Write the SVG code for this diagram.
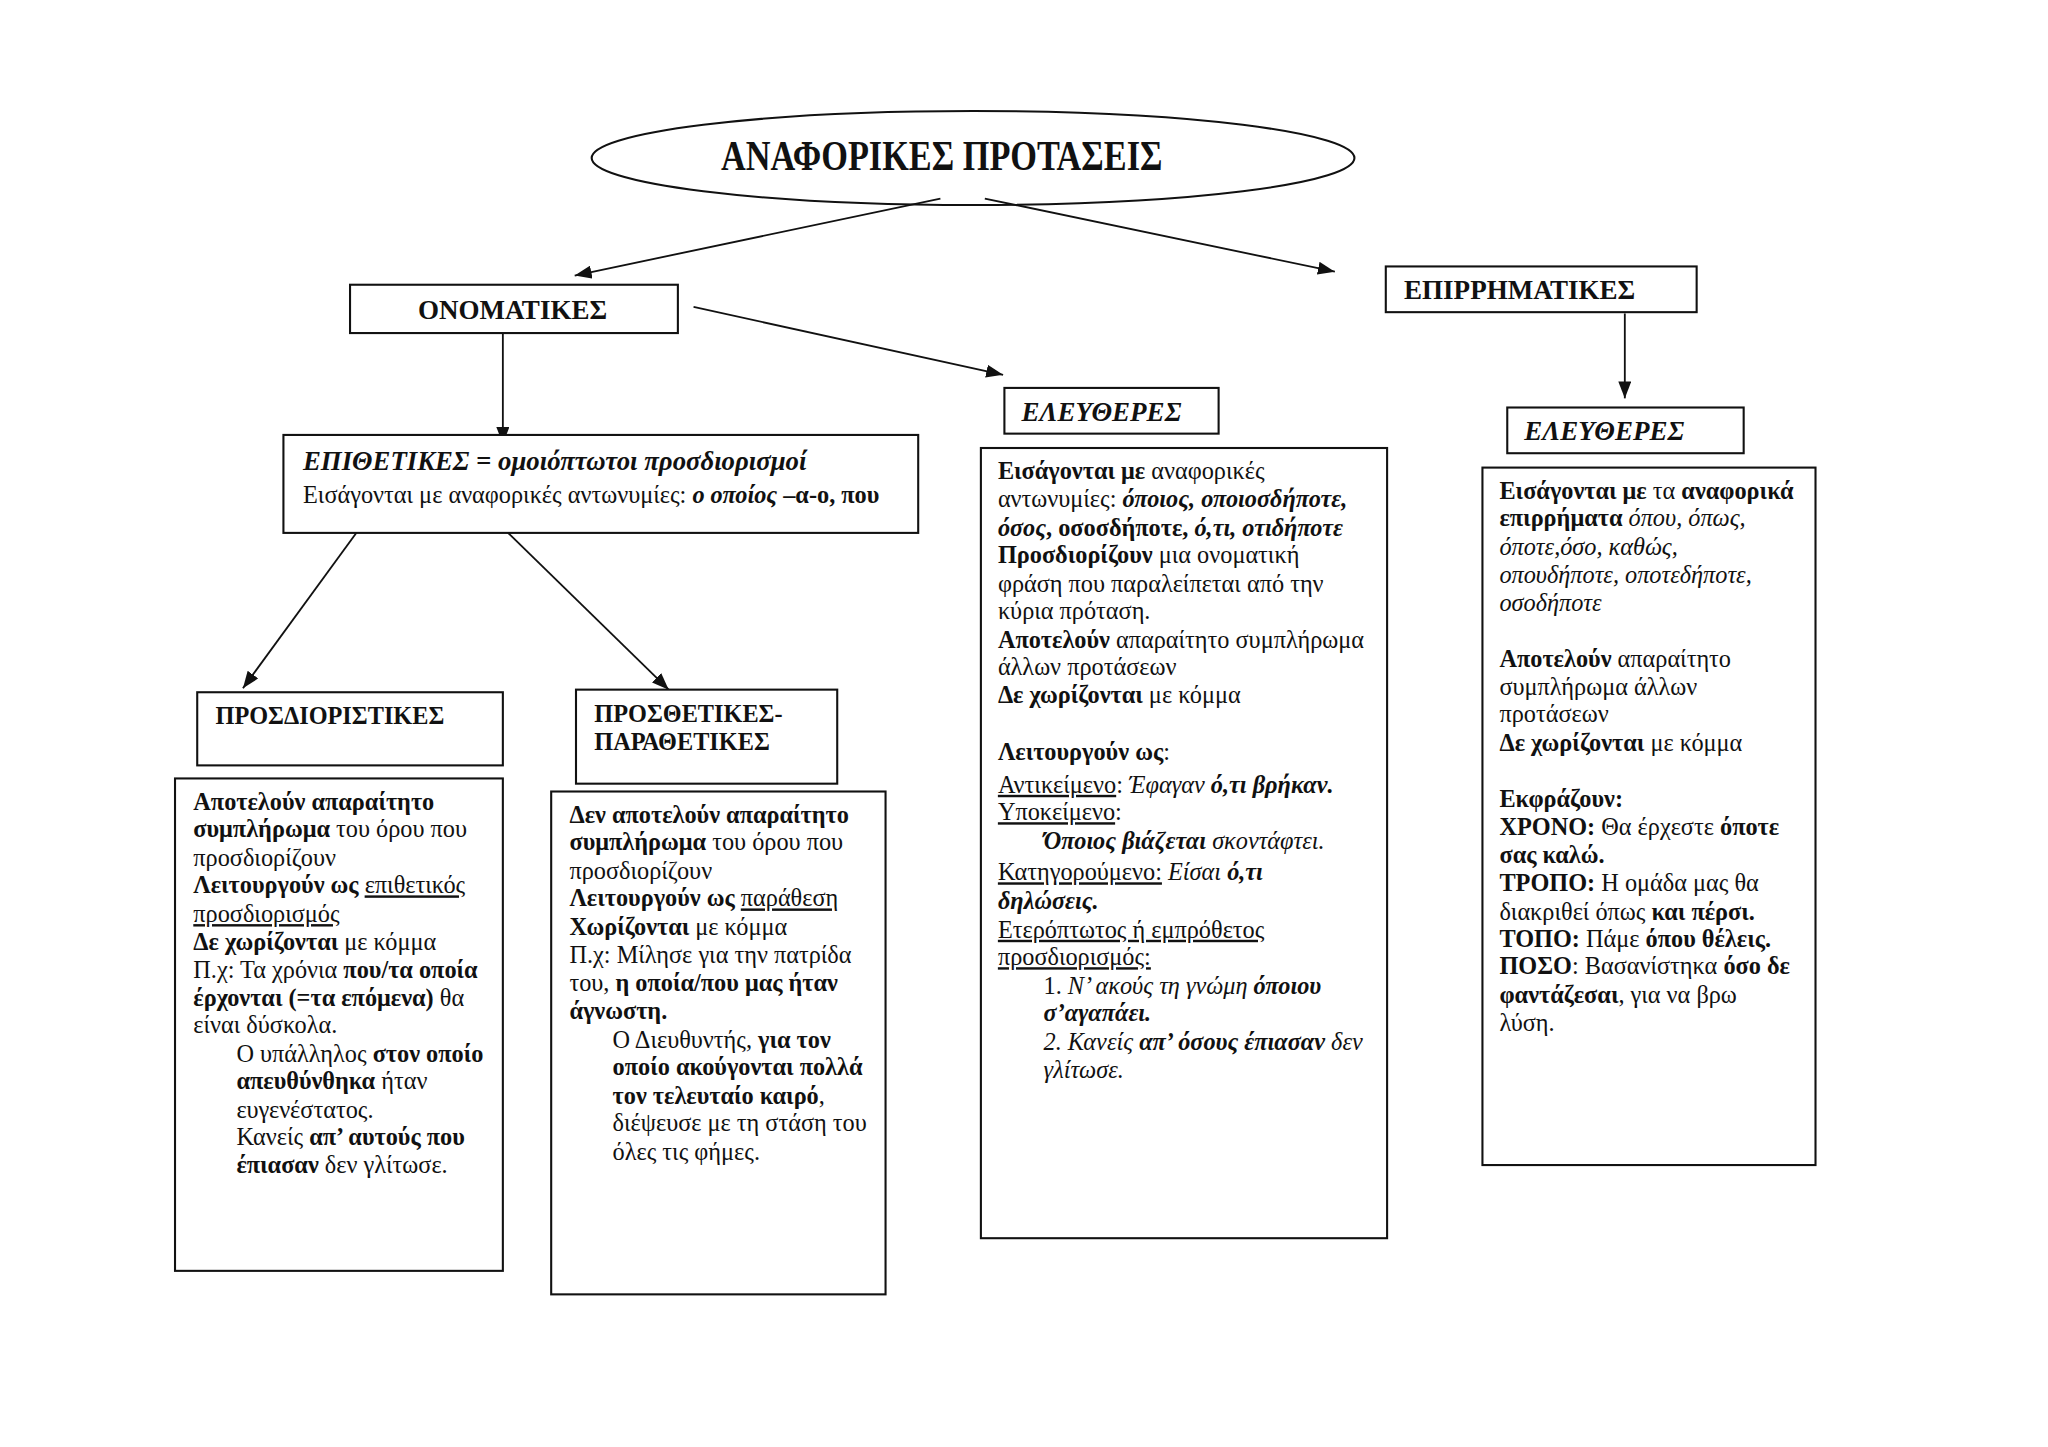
<svg xmlns="http://www.w3.org/2000/svg" width="2048" height="1447" viewBox="0 0 2048 1447">
<defs>
<marker id="arr" viewBox="0 0 13 10" refX="13" refY="5" markerWidth="13" markerHeight="10" markerUnits="userSpaceOnUse" orient="auto">
<path d="M0,0 L13,5 L0,10 Z" fill="#111"/>
</marker>
<style>
.box{fill:#fff;stroke:#111;stroke-width:1.6}
.ln{stroke:#111;stroke-width:1.4;fill:none;marker-end:url(#arr)}
text{font-family:"Liberation Serif","Times New Roman",serif;fill:#111;font-size:18.6px}
.h{font-size:20.7px;font-weight:bold}
.ttl{font-size:33px;font-weight:bold}
.big{font-size:20.5px}
.b{font-weight:bold}
.i{font-style:italic}
.u{text-decoration:underline}
</style>
</defs>
<rect width="2048" height="1447" fill="#fff"/>
<g transform="scale(1.30612)">
<g id="connectors">
<line class="ln" x1="720" y1="152" x2="440" y2="211"/>
<line class="ln" x1="754" y1="152" x2="1022" y2="208"/>
<line class="ln" x1="531" y1="235" x2="768" y2="287"/>
<line class="ln" x1="385" y1="253" x2="385" y2="340"/>
<line class="ln" x1="1244" y1="240" x2="1244" y2="305"/>
<line class="ln" x1="275" y1="405" x2="186" y2="527"/>
<line class="ln" x1="386" y1="405" x2="512" y2="528"/>
</g>

<g id="title">
<ellipse cx="745" cy="121" rx="292" ry="36" fill="none" stroke="#111" stroke-width="1.6"/>
<text class="ttl" x="552" y="130" textLength="338" lengthAdjust="spacingAndGlyphs">ΑΝΑΦΟΡΙΚΕΣ ΠΡΟΤΑΣΕΙΣ</text>
</g>

<g id="onomatikes">
<rect class="box" x="268" y="218" width="251" height="37"/>
<text class="h" x="320" y="244">ΟΝΟΜΑΤΙΚΕΣ</text>
</g>

<g id="epirrimatikes">
<rect class="box" x="1061" y="204" width="238" height="35"/>
<text class="h" x="1075" y="229">ΕΠΙΡΡΗΜΑΤΙΚΕΣ</text>
</g>

<g id="eleftheres1">
<rect class="box" x="769" y="297" width="164" height="35"/>
<text class="h i" x="782" y="322">ΕΛΕΥΘΕΡΕΣ</text>
</g>

<g id="eleftheres2">
<rect class="box" x="1154" y="312" width="181" height="35"/>
<text class="h i" x="1167" y="337">ΕΛΕΥΘΕΡΕΣ</text>
</g>

<g id="epithetikes">
<rect class="box" x="217" y="333" width="486" height="75"/>
<text class="big" x="232" y="360"><tspan class="b i">ΕΠΙΘΕΤΙΚΕΣ = ομοιόπτωτοι προσδιορισμοί</tspan></text>
<text x="232" y="385">Εισάγονται με αναφορικές αντωνυμίες: <tspan class="b i">ο οποίος</tspan><tspan class="b"> –α-ο, που</tspan></text>
</g>

<g id="prosdioristikes">
<rect class="box" x="151" y="530" width="234" height="56"/>
<text class="b" x="165" y="554">ΠΡΟΣΔΙΟΡΙΣΤΙΚΕΣ</text>
</g>

<g id="prosthetikes">
<rect class="box" x="441" y="528" width="200" height="72"/>
<text class="b" x="455" y="553">ΠΡΟΣΘΕΤΙΚΕΣ-</text>
<text class="b" x="455" y="574">ΠΑΡΑΘΕΤΙΚΕΣ</text>
</g>

<g id="prosdioristikes-body">
<rect class="box" x="134" y="596" width="251" height="377"/>
<text x="148" y="620"><tspan class="b">Αποτελούν απαραίτητο</tspan></text>
<text x="148" y="641"><tspan class="b">συμπλήρωμα</tspan> του όρου που</text>
<text x="148" y="663">προσδιορίζουν</text>
<text x="148" y="684"><tspan class="b">Λειτουργούν ως</tspan> <tspan class="u">επιθετικός</tspan></text>
<text x="148" y="706"><tspan class="u">προσδιορισμός</tspan></text>
<text x="148" y="727"><tspan class="b">Δε χωρίζονται</tspan> με κόμμα</text>
<text x="148" y="749">Π.χ: Τα χρόνια <tspan class="b">που/τα οποία</tspan></text>
<text x="148" y="770"><tspan class="b">έρχονται (=τα επόμενα)</tspan> θα</text>
<text x="148" y="791">είναι δύσκολα.</text>
<text x="181" y="813">Ο υπάλληλος <tspan class="b">στον οποίο</tspan></text>
<text x="181" y="834"><tspan class="b">απευθύνθηκα</tspan> ήταν</text>
<text x="181" y="856">ευγενέστατος.</text>
<text x="181" y="877">Κανείς <tspan class="b">απ’ αυτούς που</tspan></text>
<text x="181" y="898"><tspan class="b">έπιασαν</tspan> δεν γλίτωσε.</text>
</g>

<g id="prosthetikes-body">
<rect class="box" x="422" y="606" width="256" height="385"/>
<text x="436" y="630"><tspan class="b">Δεν αποτελούν απαραίτητο</tspan></text>
<text x="436" y="651"><tspan class="b">συμπλήρωμα</tspan> του όρου που</text>
<text x="436" y="673">προσδιορίζουν</text>
<text x="436" y="694"><tspan class="b">Λειτουργούν ως</tspan> <tspan class="u">παράθεση</tspan></text>
<text x="436" y="716"><tspan class="b">Χωρίζονται</tspan> με κόμμα</text>
<text x="436" y="737">Π.χ: Μίλησε για την πατρίδα</text>
<text x="436" y="759">του, <tspan class="b">η οποία/που μας ήταν</tspan></text>
<text x="436" y="780"><tspan class="b">άγνωστη.</tspan></text>
<text x="469" y="802">Ο Διευθυντής, <tspan class="b">για τον</tspan></text>
<text x="469" y="823"><tspan class="b">οποίο ακούγονται πολλά</tspan></text>
<text x="469" y="845"><tspan class="b">τον τελευταίο καιρό</tspan>,</text>
<text x="469" y="866">διέψευσε με τη στάση του</text>
<text x="469" y="888">όλες τις φήμες.</text>
</g>

<g id="eleftheres1-body">
<rect class="box" x="751" y="343" width="311" height="605"/>
<text x="764" y="367"><tspan class="b">Εισάγονται με</tspan> αναφορικές</text>
<text x="764" y="388">αντωνυμίες: <tspan class="b i">όποιος, οποιοσδήποτε,</tspan></text>
<text x="764" y="410"><tspan class="b i">όσος</tspan><tspan class="b">, οσοσδήποτε, </tspan><tspan class="b i">ό,τι, οτιδήποτε</tspan></text>
<text x="764" y="431"><tspan class="b">Προσδιορίζουν</tspan> μια ονοματική</text>
<text x="764" y="453">φράση που παραλείπεται από την</text>
<text x="764" y="474">κύρια πρόταση.</text>
<text x="764" y="496"><tspan class="b">Αποτελούν</tspan> απαραίτητο συμπλήρωμα</text>
<text x="764" y="517">άλλων προτάσεων</text>
<text x="764" y="538"><tspan class="b">Δε χωρίζονται</tspan> με κόμμα</text>
<text x="764" y="582"><tspan class="b">Λειτουργούν ως</tspan>:</text>
<text x="764" y="607"><tspan class="u">Αντικείμενο</tspan>: <tspan class="i">Έφαγαν </tspan><tspan class="b i">ό,τι βρήκαν.</tspan></text>
<text x="764" y="628"><tspan class="u">Υποκείμενο</tspan>:</text>
<text x="799" y="650"><tspan class="b i">Όποιος βιάζεται</tspan><tspan class="i"> σκοντάφτει.</tspan></text>
<text x="764" y="674"><tspan class="u">Κατηγορούμενο:</tspan> <tspan class="i">Είσαι </tspan><tspan class="b i">ό,τι</tspan></text>
<text x="764" y="696"><tspan class="b i">δηλώσεις.</tspan></text>
<text x="764" y="718"><tspan class="u">Ετερόπτωτος ή εμπρόθετος</tspan></text>
<text x="764" y="739"><tspan class="u">προσδιορισμός: </tspan></text>
<text x="799" y="761">1. <tspan class="i">Ν’ ακούς τη γνώμη </tspan><tspan class="b i">όποιου</tspan></text>
<text x="799" y="782"><tspan class="b i">σ’αγαπάει.</tspan></text>
<text x="799" y="804"><tspan class="i">2. Κανείς </tspan><tspan class="b i">απ’ όσους έπιασαν</tspan><tspan class="i"> δεν</tspan></text>
<text x="799" y="825"><tspan class="i">γλίτωσε.</tspan></text>
</g>

<g id="eleftheres2-body">
<rect class="box" x="1135" y="358" width="255" height="534"/>
<text x="1148" y="382"><tspan class="b">Εισάγονται με</tspan> τα <tspan class="b">αναφορικά</tspan></text>
<text x="1148" y="403"><tspan class="b">επιρρήματα</tspan> <tspan class="i">όπου, όπως,</tspan></text>
<text x="1148" y="425"><tspan class="i">όποτε,όσο, καθώς,</tspan></text>
<text x="1148" y="446"><tspan class="i">οπουδήποτε, οποτεδήποτε,</tspan></text>
<text x="1148" y="468"><tspan class="i">οσοδήποτε</tspan></text>
<text x="1148" y="511"><tspan class="b">Αποτελούν</tspan> απαραίτητο</text>
<text x="1148" y="532">συμπλήρωμα άλλων</text>
<text x="1148" y="553">προτάσεων</text>
<text x="1148" y="575"><tspan class="b">Δε χωρίζονται</tspan> με κόμμα</text>
<text x="1148" y="618"><tspan class="b">Εκφράζουν:</tspan></text>
<text x="1148" y="639"><tspan class="b">ΧΡΟΝΟ:</tspan> Θα έρχεστε <tspan class="b">όποτε</tspan></text>
<text x="1148" y="661"><tspan class="b">σας καλώ.</tspan></text>
<text x="1148" y="682"><tspan class="b">ΤΡΟΠΟ:</tspan> Η ομάδα μας θα</text>
<text x="1148" y="704">διακριθεί όπως <tspan class="b">και πέρσι.</tspan></text>
<text x="1148" y="725"><tspan class="b">ΤΟΠΟ:</tspan> Πάμε <tspan class="b">όπου θέλεις.</tspan></text>
<text x="1148" y="746"><tspan class="b">ΠΟΣΟ</tspan>: Βασανίστηκα <tspan class="b">όσο δε</tspan></text>
<text x="1148" y="768"><tspan class="b">φαντάζεσαι</tspan>, για να βρω</text>
<text x="1148" y="789">λύση.</text>
</g>
</g>
</svg>
